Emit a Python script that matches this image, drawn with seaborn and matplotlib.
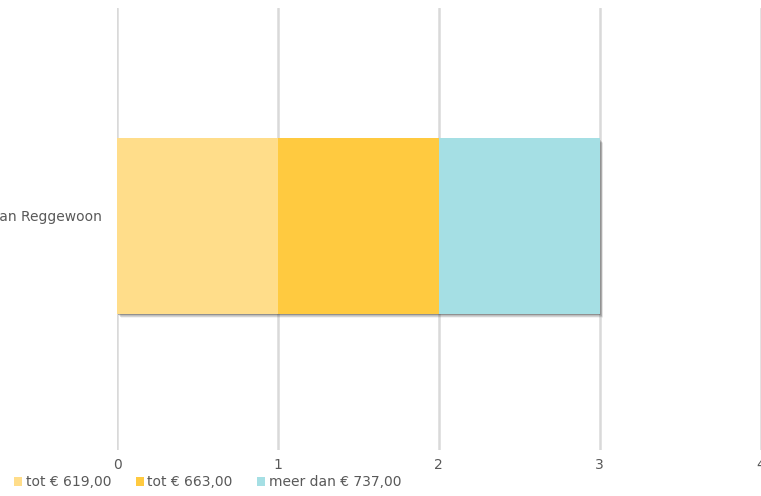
import matplotlib
matplotlib.use("Agg")
import matplotlib.pyplot as plt
import matplotlib.patheffects as pe
from matplotlib.transforms import ScaledTranslation
from matplotlib.patches import Patch
import seaborn as sns
import pandas as pd
import numpy as np

# Data
category = ["van Reggewoon"]
series = ["tot € 619,00", "tot € 663,00", "meer dan € 737,00"]
values = [1, 1, 1]
colors = ["#FFDD8A", "#FFCA40", "#A5DFE4"]
x_ticks = [0, 1, 2, 3, 4]

sns.set_theme(style="white")
plt.rcParams["font.family"] = ["DejaVu Sans"]
text_color = "#595959"

fig = plt.figure(figsize=(7.61, 4.96), dpi=100)
ax = fig.add_axes([117 / 761, 46 / 496, (760.5 - 117) / 761, 442 / 496])

# Stacked bar: draw cumulative totals from the longest to the shortest
cum = np.cumsum(values)
for i in range(len(series) - 1, -1, -1):
    df = pd.DataFrame({"cat": category, "val": [cum[i]]})
    sns.barplot(data=df, x="val", y="cat", orient="h", color=colors[i],
                width=0.396, ax=ax, saturation=1, linewidth=0,
                edgecolor="none")

for p in ax.patches:
    p.set_zorder(3)

# Soft drop shadow under the full bar, built from stacked translucent layers
shadow_layers = []
for dx, dy, a in [(2.6, -3.2, 0.06), (2.2, -2.7, 0.08), (1.8, -2.2, 0.10),
                  (1.4, -1.7, 0.14), (1.0, -1.2, 0.18), (0.6, -0.8, 0.22)]:
    shadow_layers.append(pe.SimplePatchShadow(offset=(dx, dy), shadow_rgbFace="#404040", alpha=a))
ax.patches[0].set_path_effects(shadow_layers + [pe.Normal()])

ax.set_xlim(0, 4)
ax.set_ylim(0.5068, -0.4932)
ax.set_xticks(x_ticks)
ax.set_xticklabels([str(t) for t in x_ticks])
ax.xaxis.grid(True, color="#D9D9D9", linewidth=1.8)
ax.yaxis.grid(False)
ax.set_axisbelow(True)
for s in ax.spines.values():
    s.set_visible(False)
ax.set_xlabel("")
ax.set_ylabel("")
ax.tick_params(axis="both", length=0, labelsize=10, labelcolor=text_color)
ax.tick_params(axis="x", pad=6)
ax.tick_params(axis="y", pad=11)
for lbl in ax.get_yticklabels():
    lbl.set_transform(lbl.get_transform() + ScaledTranslation(0, 0.1, fig.dpi_scale_trans))

handles = [Patch(facecolor=c, edgecolor="none") for c in colors]
fig.legend(handles, series, loc="lower left", bbox_to_anchor=(0.002, -0.012),
           ncol=3, frameon=False, fontsize=10, labelcolor=text_color,
           handlelength=0.6, handleheight=0.6, handletextpad=0.25, columnspacing=1.75)

fig.savefig("out.png", dpi=100)
